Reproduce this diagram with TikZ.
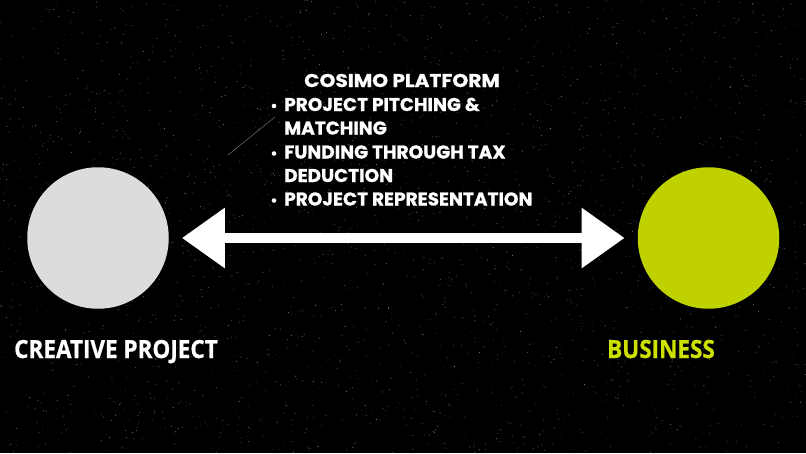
\documentclass[tikz,border=0pt]{standalone}
\usepackage{fontspec}
\usepackage{graphicx}
\usetikzlibrary{arrows.meta}
\newfontfamily\headfont{Poppins}[BoldFeatures={FakeBold=0.8}]
\newfontfamily\labelfont{Open Sans}[BoldFeatures={FakeBold=0.8}]
\definecolor{lime}{RGB}{191,210,0}
\definecolor{limetext}{RGB}{205,225,0}
\definecolor{pale}{RGB}{220,220,220}
\tikzset{
  ball/.style={circle, minimum size=141.5pt, inner sep=0pt, draw=none},
  headtxt/.style={text=white, inner sep=0pt, anchor=base west,
    font=\headfont\bfseries\fontsize{18.5}{23.6}\selectfont},
  bigtxt/.style={inner sep=0pt, anchor=base, font=\labelfont\bfseries\fontsize{25}{30}\selectfont},
}
\begin{document}
\begin{tikzpicture}[x=1pt,y=-1pt]
\fill[black] (0,0) rectangle (806,453);
\useasboundingbox (0,0) rectangle (806,453);
% speckled background
\pgfmathsetseed{7}
\foreach \i in {1,...,2600}{
  \pgfmathsetmacro\xx{rnd*806}
  \pgfmathsetmacro\yy{rnd*453}
  \pgfmathsetmacro\oo{0.12+0.45*rnd}
  \fill[white,opacity=\oo] (\xx,\yy) circle (0.5pt);
}
% faint streak
\coordinate (s1) at (228,155);
\coordinate (s2) at (275,117);
\draw[white!45!black, line width=0.5pt] (s1) -- (s2);
% circles
\node[ball, fill=pale] (lc) at (98,238) {};
\node[ball, fill=lime] (rc) at (708.5,238) {};
% double arrow
\draw[white, line width=10pt,
  {Triangle[length=43pt,width=58pt]}-{Triangle[length=43pt,width=58pt]},
  shorten <=13pt, shorten >=13pt] (lc) -- (rc);
% heading texts
\node[headtxt] (title) at (304,87) {\scalebox{1.09}[1]{COSIMO PLATFORM}};
\node[headtxt] (i1a) at (284,111) {PROJECT PITCHING \&};
\node[headtxt] (i1b) at (284,134.5) {MATCHING};
\node[headtxt] (i2a) at (284,158.5) {FUNDING THROUGH TAX};
\node[headtxt] (i2b) at (284,182) {DEDUCTION};
\node[headtxt] (i3) at (284,205.5) {PROJECT REPRESENTATION};
\foreach \y in {111, 158.5, 205.5}{
  \fill[white] (274,\y-5) circle (2.3pt);
}
% labels
\node[bigtxt, text=white] (lab1) at (116,358) {\scalebox{0.9}[1]{CREATIVE PROJECT}};
\node[bigtxt, text=limetext] (lab2) at (661,358) {\scalebox{0.9}[1]{BUSINESS}};
\end{tikzpicture}
\end{document}
